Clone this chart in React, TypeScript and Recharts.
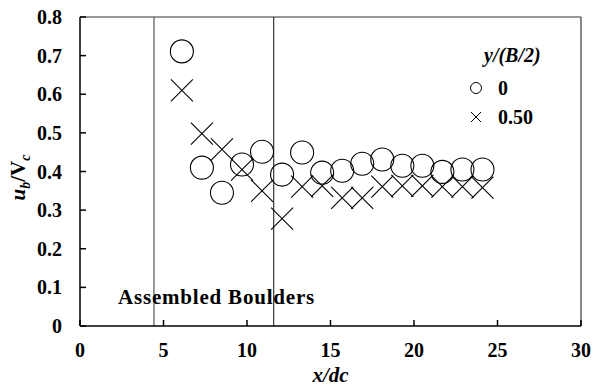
import { Legend, ReferenceLine, Scatter, ScatterChart, XAxis, YAxis } from "recharts";

// x/dc stations (same for both lateral positions)
const stations = [6.1, 7.3, 8.5, 9.7, 10.9, 12.1, 13.3, 14.5, 15.7, 16.9, 18.1, 19.3, 20.5, 21.7, 22.9, 24.1];
// ub/Vc at y/(B/2) = 0
const centreValues = [0.711, 0.41, 0.345, 0.418, 0.451, 0.392, 0.449, 0.397, 0.402, 0.42, 0.431, 0.415, 0.415, 0.399, 0.405, 0.405];
// ub/Vc at y/(B/2) = 0.50
const halfValues = [0.61, 0.498, 0.457, 0.405, 0.35, 0.278, 0.361, 0.363, 0.332, 0.332, 0.361, 0.363, 0.363, 0.361, 0.361, 0.358];
const seriesNames = ["0", "0.50"];
const boulderEdges = [4.43, 11.6];
const xTicks = [0, 5, 10, 15, 20, 25, 30];
const yTicks = [0, 0.1, 0.2, 0.3, 0.4, 0.5, 0.6, 0.7, 0.8];

const FONT = "Liberation Serif";

const centreData = stations.map((x, i) => ({ x, y: centreValues[i] }));
const halfData = stations.map((x, i) => ({ x, y: halfValues[i] }));

const tickStyle = { fontFamily: FONT, fontWeight: 700, fontSize: 20, fill: "#000" };

function CircleMark(props: any) {
  const { cx, cy } = props;
  return <circle cx={cx} cy={cy} r={11.5} fill="none" stroke="#000" strokeWidth={1.1} />;
}

function CrossMark(props: any) {
  const { cx, cy } = props;
  const s = 11;
  return (
    <g stroke="#000" strokeWidth={1.1}>
      <line x1={cx - s} y1={cy - s} x2={cx + s} y2={cy + s} />
      <line x1={cx - s} y1={cy + s} x2={cx + s} y2={cy - s} />
    </g>
  );
}

function YLabel(props: any) {
  const { viewBox } = props;
  const cx = viewBox.x + 25;
  const cy = viewBox.y + viewBox.height / 2 + 6;
  return (
    <text
      x={cx}
      y={cy}
      transform={`rotate(-90, ${cx}, ${cy})`}
      textAnchor="middle"
      style={{ fontFamily: FONT, fontWeight: 700, fontSize: 21 }}
      fill="#000"
    >
      <tspan fontStyle="italic">u</tspan>
      <tspan fontStyle="italic" fontSize={14} dy={5}>b</tspan>
      <tspan dy={-5}>/V</tspan>
      <tspan fontStyle="italic" fontSize={14} dy={5}>c</tspan>
    </text>
  );
}

function XLabel(props: any) {
  const { viewBox } = props;
  return (
    <text
      x={viewBox.x + viewBox.width / 2}
      y={viewBox.y + viewBox.height - 5}
      textAnchor="middle"
      style={{ fontFamily: FONT, fontWeight: 700, fontStyle: "italic", fontSize: 21 }}
      fill="#000"
    >
      x/dc
    </text>
  );
}

function LegendBox() {
  const row = { display: "flex", alignItems: "center", height: 29 };
  return (
    <div style={{ fontFamily: FONT, fontWeight: 700, fontSize: 20, color: "#000", lineHeight: 1 }}>
      <div style={{ fontStyle: "italic", marginLeft: 14, marginBottom: 8, marginTop: 2 }}>y/(B/2)</div>
      <div style={row}>
        <svg width={22} height={14}>
          <circle cx={6} cy={7} r={5.5} fill="none" stroke="#000" strokeWidth={1} />
        </svg>
        <span style={{ marginLeft: 6 }}>{seriesNames[0]}</span>
      </div>
      <div style={row}>
        <svg width={22} height={14}>
          <g stroke="#000" strokeWidth={1}>
            <line x1={1} y1={2} x2={11} y2={12} />
            <line x1={1} y1={12} x2={11} y2={2} />
          </g>
        </svg>
        <span style={{ marginLeft: 6 }}>{seriesNames[1]}</span>
      </div>
    </div>
  );
}

export default function App() {
  return (
    <div style={{ position: "absolute", left: 0, top: 0, width: 602, height: 387, background: "#fff" }}>
      <ScatterChart width={602} height={387} margin={{ top: 17, right: 21, bottom: 0, left: 0 }}>
        <XAxis
          type="number"
          dataKey="x"
          domain={[0, 30]}
          ticks={xTicks}
          height={61}
          tickSize={-6}
          tickMargin={23}
          tick={tickStyle}
          stroke="#000"
          strokeWidth={1.5}
          label={<XLabel />}
        />
        <YAxis
          type="number"
          dataKey="y"
          domain={[0, 0.8]}
          ticks={yTicks}
          width={80}
          tickSize={-6}
          tickMargin={24}
          tick={tickStyle}
          tickFormatter={(v: number) => (v === 0 ? "0" : v.toFixed(1))}
          stroke="#000"
          strokeWidth={1.5}
          label={<YLabel />}
        />
        <ReferenceLine y={0.8} stroke="#333" strokeWidth={1.2} />
        <ReferenceLine x={30} stroke="#555" strokeWidth={1.4} />
        <ReferenceLine x={boulderEdges[0]} stroke="#555" strokeWidth={1.2} />
        <ReferenceLine x={boulderEdges[1]} stroke="#111" strokeWidth={1} />
        <Scatter name={seriesNames[0]} data={centreData} shape={<CircleMark />} isAnimationActive={false} />
        <Scatter name={seriesNames[1]} data={halfData} shape={<CrossMark />} isAnimationActive={false} />
        <Legend
          layout="vertical"
          align="center"
          verticalAlign="middle"
          content={() => <LegendBox />}
          wrapperStyle={{ position: "absolute", left: 470, top: 43, width: "auto", height: "auto" }}
        />
      </ScatterChart>
      <div
        style={{
          position: "absolute",
          left: 118,
          top: 287,
          fontFamily: FONT,
          fontWeight: 700,
          fontSize: 21,
          letterSpacing: 0.8,
          color: "#000",
          whiteSpace: "nowrap",
          lineHeight: 1,
        }}
      >
        Assembled Boulders
      </div>
    </div>
  );
}
